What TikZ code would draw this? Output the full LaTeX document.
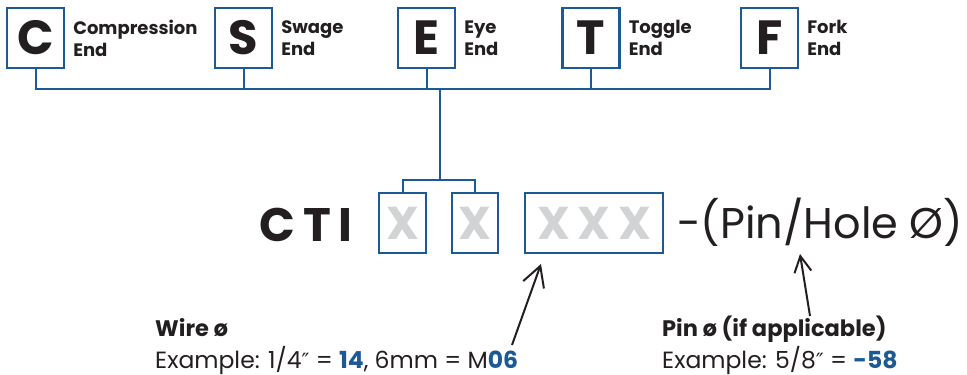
\documentclass[tikz,border=0pt]{standalone}
\usepackage{fontspec}
\setmainfont{Poppins}
\newfontfamily\primefont{DejaVu Sans}
\usetikzlibrary{arrows.meta,positioning,calc}

\definecolor{ctiblue}{HTML}{1B5A94}
\definecolor{ctigray}{HTML}{D1D3D4}
\definecolor{ctiink}{HTML}{231F20}

\newcommand{\inch}{{\primefont\fontsize{21}{21}\selectfont ″}}

\tikzset{
    endbox/.style={draw=ctiblue, line width=2.2pt, minimum width=57pt, minimum height=60pt,
        inner sep=0pt, text=ctiink, font=\bfseries\fontsize{48}{48}\selectfont},
    endlabel/.style={anchor=west, align=left, inner sep=0pt, text=ctiink,
        font=\bfseries\fontsize{18}{22}\selectfont},
    codebox/.style={draw=ctiblue, line width=2.2pt, minimum height=60pt, inner sep=0pt,
        text=ctigray, font=\bfseries\fontsize{46}{46}\selectfont},
    tree/.style={ctiblue, line width=2pt},
    pointer/.style={ctiink, line width=2pt, -{Straight Barb[length=#1]}},
    hint/.style={anchor=base west, inner sep=0pt, text=ctiink, font=\fontsize{23.5}{23.5}\selectfont},
    hinthead/.style={hint, font=\bfseries\fontsize{22.5}{22.5}\selectfont}
}

\begin{document}
\begin{tikzpicture}[x=1pt, y=-1pt]
    \useasboundingbox (0,0) rectangle (967,375);

    % End fittings
    \node[endbox] (c) at (35.5,38) {C};
    \node[endbox] (s) at (243.5,38) {S};
    \node[endbox] (e) at (426.5,38) {E};
    \node[endbox] (t) at (591,38) {T};
    \node[endbox] (f) at (769.5,38) {F};
    \node[endlabel, right=8pt of c] (clabel) {Compression\\End};
    \node[endlabel, right=8pt of s] (slabel) {Swage\\End};
    \node[endlabel, right=8pt of e] (elabel) {Eye\\End};
    \node[endlabel, right=8pt of t] (tlabel) {Toggle\\End};
    \node[endlabel, right=8pt of f] (flabel) {Fork\\End};

    % Part number
    \node[anchor=base east, inner sep=0pt, text=ctiink,
        font=\bfseries\fontsize{47}{47}\selectfont] (cti) at (353,241) {C\hspace{8pt}T\hspace{8pt}I};
    \node[codebox, minimum width=47pt] (xa) at (402.5,223) {X};
    \node[codebox, minimum width=46pt] (xb) at (475,223) {X};
    \node[codebox, minimum width=138pt] (xxx) at (594,223) {X\,X\,X};
    \node[anchor=base west, inner sep=0pt, text=ctiink,
        font=\fontsize{43}{43}\selectfont] (pin) at (677,238) {-(Pin/Hole Ø)};

    % Bracket tree
    \coordinate (bus) at (440,89);
    \coordinate (split) at (440,180);
    \foreach \n in {c,s,e,t,f} {
        \draw[tree] (\n.south) |- (bus);
    }
    \draw[tree] (bus) -- (split);
    \draw[tree] (xa.north) |- (split) -| (xb.north);

    % Notes
    \node[hinthead] (wirehead) at (155,336) {Wire ø};
    \node[hint] (wireex) at (155,368.5) {Example: 1/4\inch{} = {\bfseries\color{ctiblue}14}, 6mm = M{\bfseries\color{ctiblue}06}};
    \node[hinthead] (pinhead) at (662,336) {Pin ø (if applicable)};
    \node[hint] (pinex) at (662,368.5) {Example: 5/8\inch{} = {\bfseries\color{ctiblue}-58}};

    % Pointers
    \coordinate (wiretail) at (512,345);
    \coordinate (wiretip) at (541,264);
    \coordinate (pintail) at (810,316);
    \coordinate (pintip) at (800,254);
    \draw[pointer={20pt, width=22pt}] (wiretail) -- (wiretip);
    \draw[pointer={16pt, width=17pt}] (pintail) -- (pintip);
\end{tikzpicture}
\end{document}
